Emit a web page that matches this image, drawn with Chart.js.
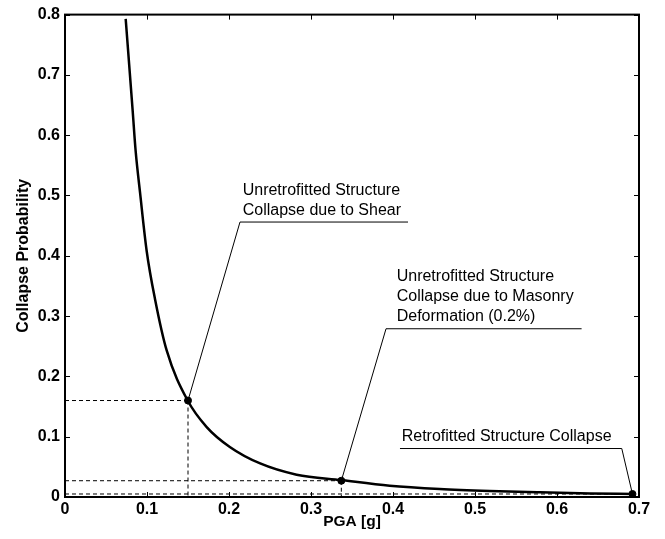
<!DOCTYPE html>
<html><head><meta charset="utf-8">
<script src="https://cdn.jsdelivr.net/npm/chart.js@4/dist/chart.umd.min.js"></script>
<style>html,body{margin:0;padding:0;background:#fff}#wrap{width:665px;height:539px;position:relative}</style>
</head><body><div id="wrap"><canvas id="c"></canvas></div>
<script>
// PGA [g] values along the fragility curve and their collapse probabilities
const curvePGA = [0.074, 0.0826, 0.0862, 0.0915, 0.0996, 0.1098, 0.124, 0.1496, 0.1728, 0.201, 0.238, 0.2825, 0.337, 0.396, 0.457, 0.518, 0.579, 0.640, 0.693];
const curveProb = [0.793, 0.639, 0.573, 0.505, 0.408, 0.328, 0.243, 0.160, 0.116, 0.083, 0.0556, 0.037, 0.028, 0.0187, 0.0132, 0.0099, 0.0077, 0.006, 0.005];
// marked limit states
const markerPGA = [0.15, 0.337, 0.692];
const markerProb = [0.160, 0.027, 0.005];
const markerLabels = [
  ["Unretrofitted Structure", "Collapse due to Shear"],
  ["Unretrofitted Structure", "Collapse due to Masonry", "Deformation (0.2%)"],
  ["Retrofitted Structure Collapse"]
];
const xTickValues = [0, 0.1, 0.2, 0.3, 0.4, 0.5, 0.6, 0.7];
const yTickValues = [0, 0.1, 0.2, 0.3, 0.4, 0.5, 0.6, 0.7, 0.8];
const xTitle = "PGA [g]";
const yTitle = "Collapse Probability";

// annotation layout (data coordinates of text and leader elbow)
const annoLayout = [
  {tx: 0.2167, ty: 0.508, ux0: 0.2134, ux1: 0.4183, uy: 0.456, elbowX: 0.2134},
  {tx: 0.4045, ty: 0.365, ux0: 0.3915, ux1: 0.630, uy: 0.279, elbowX: 0.3915},
  {tx: 0.4106, ty: 0.0995, ux0: 0.4085, ux1: 0.679, uy: 0.0804, elbowX: 0.679}
];

const FONT = "'Liberation Sans', Arial, Helvetica, sans-serif";

const overlay = {
  id: 'overlay',
  beforeDatasetsDraw(chart) {
    const {ctx, scales: {x, y}} = chart;
    ctx.save();
    ctx.strokeStyle = '#000';
    ctx.lineWidth = 1;
    ctx.setLineDash([4, 3]);
    const x0 = x.getPixelForValue(0), y0 = y.getPixelForValue(0);
    markerPGA.forEach((px, i) => {
      const X = x.getPixelForValue(px), Y = y.getPixelForValue(markerProb[i]);
      ctx.beginPath();
      ctx.moveTo(x0, Y); ctx.lineTo(X, Y);
      ctx.moveTo(X, Y); ctx.lineTo(X, y0);
      ctx.stroke();
    });
    ctx.restore();
  },
  afterDatasetsDraw(chart) {
    const {ctx, chartArea: a, scales: {x, y}} = chart;
    ctx.save();
    ctx.strokeStyle = '#000';
    ctx.lineWidth = 1;
    annoLayout.forEach((L, i) => {
      ctx.beginPath();
      ctx.moveTo(x.getPixelForValue(L.ux0), y.getPixelForValue(L.uy));
      ctx.lineTo(x.getPixelForValue(L.ux1), y.getPixelForValue(L.uy));
      ctx.moveTo(x.getPixelForValue(L.elbowX), y.getPixelForValue(L.uy));
      ctx.lineTo(x.getPixelForValue(markerPGA[i]), y.getPixelForValue(markerProb[i]));
      ctx.stroke();
      ctx.fillStyle = '#000';
      ctx.font = '16px ' + FONT;
      ctx.textAlign = 'left';
      ctx.textBaseline = 'middle';
      const tx = x.getPixelForValue(L.tx), ty = y.getPixelForValue(L.ty);
      markerLabels[i].forEach((t, k) => ctx.fillText(t, tx, ty + k * 20));
    });
    ctx.lineWidth = 2;
    ctx.strokeRect(a.left, a.top, a.right - a.left, a.bottom - a.top);
    ctx.lineWidth = 1;
    ctx.beginPath();
    xTickValues.forEach(v => {
      const X = Math.round(x.getPixelForValue(v)) + 0.5;
      ctx.moveTo(X, a.bottom); ctx.lineTo(X, a.bottom - 5);
      ctx.moveTo(X, a.top); ctx.lineTo(X, a.top + 5);
    });
    yTickValues.forEach(v => {
      const Y = Math.round(y.getPixelForValue(v)) + 0.5;
      ctx.moveTo(a.left, Y); ctx.lineTo(a.left + 5, Y);
      ctx.moveTo(a.right, Y); ctx.lineTo(a.right - 5, Y);
    });
    ctx.stroke();
    ctx.restore();
  }
};

const fmt = v => (Math.abs(v) < 1e-9 ? '0' : Number(v).toFixed(1));

new Chart(document.getElementById('c'), {
  type: 'scatter',
  data: {
    datasets: [
      {
        data: curvePGA.map((v, i) => ({x: v, y: curveProb[i]})),
        showLine: true,
        borderColor: '#000',
        borderWidth: 2.5,
        pointRadius: 0,
        cubicInterpolationMode: 'monotone',
        order: 2
      },
      {
        data: markerPGA.map((v, i) => ({x: v, y: markerProb[i]})),
        showLine: false,
        pointRadius: 3.5,
        pointBackgroundColor: '#000',
        pointBorderColor: '#000',
        order: 1
      }
    ]
  },
  options: {
    responsive: true,
    maintainAspectRatio: false,
    animation: false,
    events: [],
    layout: {padding: {top: 12, right: 26, left: 0, bottom: 0}},
    plugins: {legend: {display: false}, tooltip: {enabled: false}},
    scales: {
      x: {
        type: 'linear', min: 0, max: 0.7,
        afterBuildTicks: s => { s.ticks = xTickValues.map(v => ({value: v})); },
        afterFit: s => { s.height = 42; },
        grid: {display: false, drawTicks: false},
        border: {display: false},
        ticks: {color: '#000', padding: 3, maxRotation: 0, autoSkip: false,
                font: {family: FONT, size: 16, weight: 'bold'}, callback: fmt},
        title: {display: true, text: xTitle, color: '#000', padding: {top: 0, bottom: 8},
                font: {family: FONT, size: 15.5, weight: 'bold'}}
      },
      y: {
        type: 'linear', min: 0, max: 0.8,
        afterBuildTicks: s => { s.ticks = yTickValues.map(v => ({value: v})); },
        afterFit: s => { s.width = 65; },
        grid: {display: false, drawTicks: false},
        border: {display: false},
        ticks: {color: '#000', padding: 5, autoSkip: false,
                font: {family: FONT, size: 16, weight: 'bold'}, callback: fmt},
        title: {display: true, text: yTitle, color: '#000', padding: {top: 14, bottom: 0},
                font: {family: FONT, size: 16, weight: 'bold'}}
      }
    }
  },
  plugins: [overlay]
});
</script>
</body></html>
